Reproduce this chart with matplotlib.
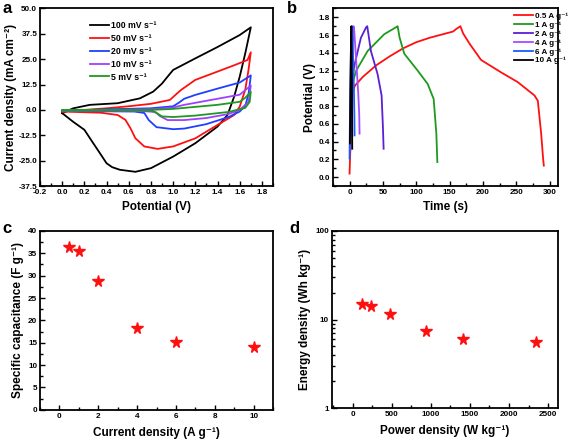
import matplotlib
matplotlib.use('Agg')
import matplotlib.pyplot as plt
from matplotlib.ticker import MultipleLocator, FixedLocator, LogLocator, NullFormatter

plt.rcParams['font.family'] = ['Liberation Sans', 'DejaVu Sans']
plt.rcParams['font.weight'] = 'bold'
plt.rcParams['axes.labelweight'] = 'bold'

# (a) CV curves, potential (V) / current density (mA cm-2), one closed loop per scan rate
cv_labels = ['100 mV s⁻¹', '50 mV s⁻¹', '20 mV s⁻¹', '10 mV s⁻¹', '5 mV s⁻¹']
cv_colors = ['#000000', '#ff1010', '#1f3fff', '#a040ff', '#1f9a1f']

cv100_v = [0.0, 0.1, 0.25, 0.5, 0.7, 0.82, 0.9, 0.95, 1.0, 1.2, 1.4, 1.6, 1.7,
           1.65, 1.6, 1.55, 1.49, 1.4, 1.2, 1.0, 0.8, 0.66, 0.52, 0.45, 0.4, 0.33, 0.27, 0.2, 0.1, 0.0]
cv100_i = [-1.6, 0.8, 2.5, 3.3, 5.7, 9.0, 13.0, 16.4, 19.7, 25.4, 31.0, 36.9, 40.7,
           27.9, 16.4, 6.6, -2.5, -8.2, -16.4, -23.0, -28.7, -30.5, -29.5, -28.2, -26.3, -20.5, -15.6, -9.8, -5.9, -1.6]

cv50_v = [0.0, 0.4, 0.6, 0.8, 0.97, 1.07, 1.2, 1.4, 1.55, 1.67, 1.7,
          1.68, 1.65, 1.6, 1.55, 1.4, 1.2, 1.0, 0.86, 0.74, 0.66, 0.615, 0.57, 0.5, 0.35, 0.0]
cv50_i = [-0.8, 0.8, 1.8, 3.0, 4.9, 9.8, 14.8, 18.9, 22.0, 24.6, 28.4,
          20.0, 10.0, 1.6, -2.5, -7.4, -14.0, -18.0, -19.2, -18.0, -14.0, -9.0, -4.9, -2.5, -1.4, -0.8]

cv20_v = [0.0, 0.4, 0.8, 1.0, 1.05, 1.1, 1.2, 1.4, 1.6, 1.7,
          1.68, 1.65, 1.6, 1.5, 1.3, 1.1, 1.0, 0.85, 0.78, 0.74, 0.65, 0.0]
cv20_i = [-0.5, 0.3, 0.8, 1.8, 3.5, 5.5, 7.4, 10.5, 13.5, 17.0,
          8.0, 2.0, -0.8, -3.5, -7.0, -9.2, -9.5, -8.5, -5.0, -1.5, -0.8, -0.5]

cv10_v = [0.0, 0.8, 1.0, 1.1, 1.2, 1.4, 1.6, 1.7,
          1.68, 1.6, 1.5, 1.3, 1.1, 0.95, 0.88, 0.84, 0.7, 0.0]
cv10_i = [-0.3, 0.3, 1.2, 2.5, 3.5, 5.5, 7.5, 12.0,
          4.0, 0.0, -2.0, -4.0, -5.0, -5.0, -3.0, -1.0, -0.5, -0.3]

cv5_v = [0.0, 0.8, 1.0, 1.2, 1.4, 1.6, 1.65, 1.7,
         1.69, 1.65, 1.5, 1.2, 1.0, 0.9, 0.85, 0.8, 0.0]
cv5_i = [-0.2, 0.0, 0.5, 1.5, 2.5, 4.0, 6.0, 9.0,
         4.0, 1.0, -1.0, -2.8, -3.5, -3.2, -1.5, -0.3, -0.2]

# (b) GCD curves, time (s) / potential (V)
gcd_labels = ['0.5 A g⁻¹', '1 A g⁻¹', '2 A g⁻¹', '4 A g⁻¹', '6 A g⁻¹', '10 A g⁻¹']
gcd_colors = ['#ff1010', '#1f9a1f', '#5a1fd6', '#a64dff', '#1a5cff', '#000000']

gcd05_t = [0, 2, 4, 8, 20, 40, 60, 80, 100, 120, 140, 150, 155, 160, 166,
           170, 180, 197, 227, 252, 277, 282, 287, 290, 291]
gcd05_v = [0.04, 0.5, 0.95, 1.03, 1.13, 1.26, 1.36, 1.45, 1.52, 1.57, 1.61, 1.63, 1.64, 1.67, 1.70,
           1.62, 1.50, 1.32, 1.18, 1.07, 0.92, 0.86, 0.49, 0.2, 0.13]

gcd1_t = [1, 2, 4, 10, 27, 52, 70, 72, 75, 82, 102, 117, 126, 130, 131.5]
gcd1_v = [0.4, 0.9, 1.05, 1.2, 1.42, 1.61, 1.69, 1.70, 1.57, 1.39, 1.2, 1.05, 0.88, 0.49, 0.17]

gcd2_t = [1, 2, 4, 7, 17, 25, 26.5, 32, 42, 48, 50, 51]
gcd2_v = [0.3, 0.9, 1.1, 1.25, 1.57, 1.69, 1.70, 1.42, 1.16, 0.92, 0.56, 0.32]

gcd4_t = [0.5, 2, 4, 6, 7, 10, 13, 14.5, 15]
gcd4_v = [0.3, 1.0, 1.4, 1.70, 1.65, 1.3, 0.95, 0.7, 0.49]

gcd6_t = [0, 1, 2.5, 4, 5, 6.5, 7.2, 7.5]
gcd6_v = [0.21, 1.0, 1.6, 1.70, 1.45, 1.0, 0.7, 0.47]

gcd10_t = [0.5, 1.5, 2.3, 2.7, 3.3, 3.8, 4.0]
gcd10_v = [0.38, 1.1, 1.62, 1.70, 1.3, 0.7, 0.32]

# (c) rate capability
current_density = [0.5, 1, 2, 4, 6, 10]
capacitance = [36.5, 35.6, 28.7, 18.4, 15.2, 14.1]

# (d) Ragone plot
power_density = [117, 235, 470, 940, 1410, 2350]
energy_density = [14.8, 14.1, 11.5, 7.4, 6.1, 5.6]

fig = plt.figure(figsize=(5.69, 4.45), dpi=100)
ax_a = fig.add_axes([0.0703, 0.582, 0.4095, 0.399])
ax_b = fig.add_axes([0.585, 0.582, 0.396, 0.399])
ax_c = fig.add_axes([0.0703, 0.079, 0.4095, 0.402])
ax_d = fig.add_axes([0.583, 0.083, 0.398, 0.398])

LABEL_FS = 8.5


def style(ax):
    for s in ax.spines.values():
        s.set_linewidth(1.3)
    ax.tick_params(which='both', direction='in', top=False, right=False, labelsize=5.9, width=1.0, pad=2)
    ax.tick_params(which='major', length=3.5)
    ax.tick_params(which='minor', length=2)
    for lab in ax.get_xticklabels() + ax.get_yticklabels():
        lab.set_fontweight('bold')


# panel a
cv_data = [(cv100_v, cv100_i), (cv50_v, cv50_i), (cv20_v, cv20_i), (cv10_v, cv10_i), (cv5_v, cv5_i)]
for (v, i), lab, col in zip(cv_data, cv_labels, cv_colors):
    ax_a.plot(v, i, color=col, lw=1.3, label=lab)
ax_a.set_xlim(-0.2, 1.9)
ax_a.set_ylim(-37.5, 50)
ax_a.xaxis.set_major_locator(MultipleLocator(0.2))
ax_a.xaxis.set_minor_locator(MultipleLocator(0.1))
ax_a.yaxis.set_major_locator(MultipleLocator(12.5))
ax_a.xaxis.set_major_formatter(plt.FuncFormatter(lambda x, p: f'{x:.1f}' if x < 1.85 else ''))
ax_a.yaxis.set_major_formatter(plt.FuncFormatter(lambda x, p: f'{x:.1f}'))
ax_a.set_xlabel('Potential (V)', fontsize=LABEL_FS, labelpad=4)
ax_a.set_ylabel('Current density (mA cm⁻²)', fontsize=LABEL_FS, labelpad=1)
ax_a.legend(loc='upper left', bbox_to_anchor=(0.19, 0.965), frameon=False, handlelength=2.1,
            handletextpad=0.3, labelspacing=0.45, borderaxespad=0.3, prop={'weight': 'bold', 'size': 6.3})
style(ax_a)

# panel b
gcd_data = [(gcd05_t, gcd05_v), (gcd1_t, gcd1_v), (gcd2_t, gcd2_v), (gcd4_t, gcd4_v),
            (gcd6_t, gcd6_v), (gcd10_t, gcd10_v)]
for (t, v), lab, col in zip(gcd_data, gcd_labels, gcd_colors):
    ax_b.plot(t, v, color=col, lw=1.3, label=lab)
ax_b.set_xlim(-25, 312.5)
ax_b.set_ylim(-0.1, 1.9)
ax_b.xaxis.set_major_locator(MultipleLocator(50))
ax_b.xaxis.set_minor_locator(MultipleLocator(25))
ax_b.yaxis.set_major_locator(FixedLocator([0, 0.2, 0.4, 0.6, 0.8, 1.0, 1.2, 1.4, 1.6, 1.8]))
ax_b.yaxis.set_minor_locator(MultipleLocator(0.1))
ax_b.yaxis.set_major_formatter(plt.FuncFormatter(lambda x, p: f'{x:.1f}'))
ax_b.set_xlabel('Time (s)', fontsize=LABEL_FS, labelpad=4)
ax_b.set_ylabel('Potential (V)', fontsize=LABEL_FS, labelpad=2)
ax_b.legend(loc='upper left', bbox_to_anchor=(0.79, 0.995), frameon=False, handlelength=2.3,
            handletextpad=0.3, labelspacing=0.15, borderaxespad=0.0, prop={'weight': 'bold', 'size': 5.8})
style(ax_b)

# panel c
ax_c.plot(current_density, capacitance, ls='none', marker='*', ms=8.5, color='#ff1010')
ax_c.set_xlim(-1, 11)
ax_c.set_ylim(0, 40)
ax_c.xaxis.set_major_locator(MultipleLocator(2))
ax_c.xaxis.set_minor_locator(MultipleLocator(1))
ax_c.yaxis.set_major_locator(MultipleLocator(5))
ax_c.yaxis.set_minor_locator(MultipleLocator(2.5))
ax_c.set_xlabel('Current density (A g⁻¹)', fontsize=LABEL_FS, labelpad=5)
ax_c.set_ylabel('Specific capacitance (F g⁻¹)', fontsize=LABEL_FS, labelpad=3)
style(ax_c)

# panel d
ax_d.plot(power_density, energy_density, ls='none', marker='*', ms=8.5, color='#ff1010')
ax_d.set_yscale('log')
ax_d.set_xlim(-270, 2630)
ax_d.set_ylim(1, 100)
ax_d.xaxis.set_major_locator(MultipleLocator(500))
ax_d.xaxis.set_minor_locator(MultipleLocator(250))
ax_d.yaxis.set_major_locator(FixedLocator([1, 10, 100]))
ax_d.yaxis.set_major_formatter(plt.FuncFormatter(lambda y, p: f'{y:g}'))
ax_d.yaxis.set_minor_locator(LogLocator(base=10, subs=range(2, 10)))
ax_d.yaxis.set_minor_formatter(NullFormatter())
ax_d.set_xlabel('Power density (W kg⁻¹)', fontsize=LABEL_FS, labelpad=5)
ax_d.set_ylabel('Energy density (Wh kg⁻¹)', fontsize=LABEL_FS, labelpad=3)
style(ax_d)

for (x, y), letter in zip([(0.004, 0.998), (0.505, 0.998), (0.004, 0.503), (0.508, 0.503)], 'abcd'):
    fig.text(x, y, letter, fontsize=12, fontweight='bold', va='top', ha='left')

fig.savefig('out.png', dpi=100)
